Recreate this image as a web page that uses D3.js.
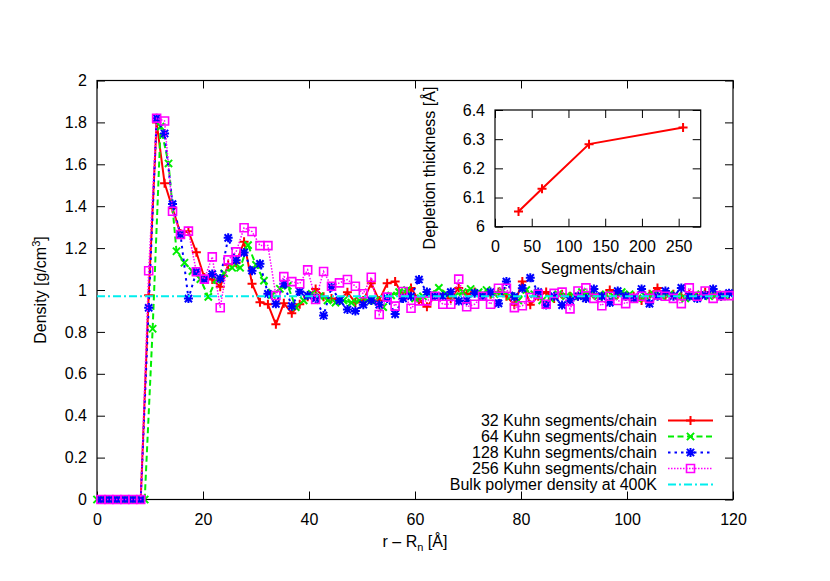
<!DOCTYPE html>
<html>
<head>
<meta charset="utf-8">
<script src="https://cdn.jsdelivr.net/npm/d3@7"></script>
<style>
  body { margin: 0; background: #fff; }
  svg { font-family: "Liberation Sans", Arial, sans-serif; }
  .axis text { font-size: 16px; fill: #000; }
  .axis line { stroke: #000; stroke-width: 1; }
  .lbl { font-size: 16px; fill: #000; }
</style>
</head>
<body>
<svg class="root"></svg>
<script>
// r - R_n grid of the 32/128/256 runs and of the 64 run (shifted half a bin)
var rA = [0.75,2.25,3.75,5.25,6.75,8.25,9.75,11.25,12.75,14.25,15.75,17.25,18.75,20.25,21.75,23.25,24.75,26.25,27.75,29.25,
  30.75,32.25,33.75,35.25,36.75,38.25,39.75,41.25,42.75,44.25,45.75,47.25,48.75,50.25,51.75,53.25,54.75,56.25,57.75,59.25,
  60.75,62.25,63.75,65.25,66.75,68.25,69.75,71.25,72.75,74.25,75.75,77.25,78.75,80.25,81.75,83.25,84.75,86.25,87.75,89.25,
  90.75,92.25,93.75,95.25,96.75,98.25,99.75,101.25,102.75,104.25,105.75,107.25,108.75,110.25,111.75,113.25,114.75,116.25,117.75,119.25];
var rB = [0,1.5,3,4.5,6,7.5,9,10.5,12,13.5,15,16.5,18,19.5,21,22.5,24,25.5,27,28.5,
  30,31.5,33,34.5,36,37.5,39,40.5,42,43.5,45,46.5,48,49.5,51,52.5,54,55.5,57,58.5,
  60,61.5,63,64.5,66,67.5,69,70.5,72,73.5,75,76.5,78,79.5,81,82.5,84,85.5,87,88.5,
  90,91.5,93,94.5,96,97.5,99,100.5,102,103.5,105,106.5,108,109.5,111,112.5,114,115.5,117,118.5];

var dens32 = [0,0,0,0,0,0,0.975,1.80,1.51,1.39,1.27,1.28,1.18,1.06,1.05,1.015,1.12,1.13,1.23,1.03,
  0.942,0.932,0.836,0.937,0.889,0.932,0.968,1.005,0.968,0.96,0.95,0.989,0.94,0.95,1.032,0.95,1.032,1.04,0.97,1.01,
  0.95,0.92,0.97,0.98,0.96,1.01,0.98,0.99,0.97,0.98,0.99,0.97,0.93,1.04,0.93,0.97,0.99,0.96,0.98,0.97,
  0.97,0.96,0.98,0.97,1.00,0.98,0.97,0.97,0.95,0.98,1.01,0.97,0.98,0.97,0.98,0.97,0.99,0.98,0.97,0.98];
var dens64 = [0,0,0,0,0,0,0,0.815,1.78,1.604,1.185,1.13,1.09,1.052,0.967,1.05,1.08,1.106,1.106,1.214,
  1.12,1.045,0.976,1.006,1.02,0.918,0.95,0.982,0.97,0.95,0.94,0.95,0.94,0.95,0.95,0.95,0.918,0.974,0.99,1.0,
  0.96,0.97,0.98,1.01,0.98,0.97,0.99,1.005,0.99,1.0,0.98,0.995,0.97,0.95,1.0,0.98,0.95,0.96,0.98,0.97,
  0.97,0.99,0.98,0.97,0.98,0.97,0.99,0.98,0.96,0.97,0.98,0.97,0.98,0.97,0.96,0.97,0.98,0.97,0.98,0.97];
var dens128 = [0,0,0,0,0,0,0.915,1.82,1.747,1.41,1.265,0.959,1.087,1.05,1.076,1.055,1.249,1.142,1.179,1.092,
  1.125,0.982,0.934,1.03,0.923,0.993,0.974,0.96,0.878,1.014,0.95,0.907,0.90,0.93,0.95,0.93,0.96,0.885,0.96,0.97,
  1.05,0.99,0.97,0.97,0.99,0.947,0.95,0.985,0.97,0.99,0.936,1.04,0.968,1.008,1.058,0.99,0.928,0.97,0.928,0.95,
  0.97,0.96,1.005,0.97,0.94,0.995,0.97,0.96,1.005,0.935,0.97,0.995,0.97,1.01,0.97,0.96,0.975,1.005,0.97,0.985];
var dens256 = [0,0,0,0,0,0,1.092,1.82,1.807,1.376,1.265,1.281,1.087,1.052,1.158,0.915,1.144,1.182,1.297,1.279,
  1.212,1.212,0.974,1.064,1.04,1.03,1.096,0.955,1.088,1.018,1.034,1.05,1.018,0.982,1.061,0.883,0.966,0.923,0.993,0.913,
  0.948,0.948,0.97,0.932,0.932,1.052,0.92,0.932,0.97,0.932,1.008,1.008,0.916,0.925,0.964,0.98,0.932,0.984,0.99,0.91,
  0.995,1.01,0.96,0.925,0.97,0.95,0.935,0.96,0.97,0.96,0.976,0.97,0.96,0.935,1.01,0.97,0.995,0.96,0.973,0.973];
var bulkDensity = 0.97;

var segments = [32, 64, 128, 256];
var depletion = [6.052, 6.13, 6.283, 6.34];

var xTicks = [0, 20, 40, 60, 80, 100, 120];
var yTicks = [0, 0.2, 0.4, 0.6, 0.8, 1, 1.2, 1.4, 1.6, 1.8, 2];
var insetXTicks = [0, 50, 100, 150, 200, 250];
var insetYTicks = [6, 6.1, 6.2, 6.3, 6.4];

var series = [
  {name: "32 Kuhn segments/chain", r: rA, v: dens32, color: "#ff0000", dash: null, width: 2, mark: "plus"},
  {name: "64 Kuhn segments/chain", r: rB, v: dens64, color: "#00ee00", dash: "6,3.5", width: 2, mark: "cross"},
  {name: "128 Kuhn segments/chain", r: rA, v: dens128, color: "#0000ff", dash: "2.5,4", width: 2, mark: "star"},
  {name: "256 Kuhn segments/chain", r: rA, v: dens256, color: "#ff00ff", dash: "1.5,1.5", width: 1.5, mark: "box"}
];

var W = 830, H = 581;
var svg = d3.select(".root").attr("width", W).attr("height", H);
svg.append("rect").attr("width", W).attr("height", H).attr("fill", "#fff");

var x = d3.scaleLinear().domain([0, 120]).range([97, 733]);
var y = d3.scaleLinear().domain([0, 2]).range([499.5, 80.5]);

function markPath(type) {
  var a = 4.5, b = 3.6;
  if (type == "plus") return "M" + (-a) + ",0H" + a + "M0," + (-a) + "V" + a;
  if (type == "cross") return "M" + (-b) + "," + (-b) + "L" + b + "," + b + "M" + (-b) + "," + b + "L" + b + "," + (-b);
  if (type == "star") return "M" + (-a) + ",0H" + a + "M0," + (-a) + "V" + a +
      "M" + (-b) + "," + (-b) + "L" + b + "," + b + "M" + (-b) + "," + b + "L" + b + "," + (-b);
  return "M-4,-4H4V4H-4Z";
}

function frame(g, sx, sy, xt, yt, fmtY) {
  g.append("g").attr("class", "axis")
      .attr("transform", "translate(0," + sy.range()[0] + ")")
      .call(d3.axisBottom(sx).tickValues(xt).tickSize(-8).tickSizeOuter(0).tickPadding(14).tickFormat(d3.format("")));
  g.append("g").attr("class", "axis")
      .attr("transform", "translate(0," + sy.range()[1] + ")")
      .call(d3.axisTop(sx).tickValues(xt).tickSize(-8).tickSizeOuter(0).tickFormat(""));
  g.append("g").attr("class", "axis")
      .attr("transform", "translate(" + sx.range()[0] + ",0)")
      .call(d3.axisLeft(sy).tickValues(yt).tickSize(-8).tickSizeOuter(0).tickPadding(10).tickFormat(fmtY));
  g.append("g").attr("class", "axis")
      .attr("transform", "translate(" + sx.range()[1] + ",0)")
      .call(d3.axisRight(sy).tickValues(yt).tickSize(-8).tickSizeOuter(0).tickFormat(""));
  g.selectAll(".domain").remove();
  g.append("rect")
      .attr("x", sx.range()[0]).attr("y", sy.range()[1])
      .attr("width", sx.range()[1] - sx.range()[0])
      .attr("height", sy.range()[0] - sy.range()[1])
      .attr("fill", "none").attr("stroke", "#000").attr("stroke-width", 1.2);
}

var main = svg.append("g");
frame(main, x, y, xTicks, yTicks, d3.format(""));

var line = d3.line().x(d => x(d[0])).y(d => y(d[1]));

series.forEach(function(s) {
  var pts = s.r.map((r, i) => [r, s.v[i]]);
  main.append("path")
      .attr("d", line(pts))
      .attr("fill", "none")
      .attr("stroke", s.color)
      .attr("stroke-width", s.width)
      .attr("stroke-dasharray", s.dash);
  main.selectAll(null)
      .data(pts)
    .enter().append("path")
      .attr("transform", d => "translate(" + x(d[0]) + "," + y(d[1]) + ")")
      .attr("d", markPath(s.mark))
      .attr("fill", "none")
      .attr("stroke", s.color)
      .attr("stroke-width", s.mark == "box" ? 1.6 : 2);
});

main.append("line")
    .attr("x1", x(0)).attr("x2", x(120))
    .attr("y1", y(bulkDensity)).attr("y2", y(bulkDensity))
    .attr("stroke", "#00eeee").attr("stroke-width", 2)
    .attr("stroke-dasharray", "8,3,2,3");

// axis titles
var yl = main.append("text").attr("class", "lbl")
    .attr("text-anchor", "middle")
    .attr("transform", "translate(46,290)rotate(-90)");
yl.append("tspan").text("Density [g/cm");
yl.append("tspan").attr("dy", -6).attr("font-size", 11).text("3");
yl.append("tspan").attr("dy", 6).text("]");

var xl = main.append("text").attr("class", "lbl")
    .attr("text-anchor", "middle")
    .attr("x", 415).attr("y", 547);
xl.append("tspan").text("r – R");
xl.append("tspan").attr("dy", 4).attr("font-size", 11).text("n");
xl.append("tspan").attr("dy", -4).text(" [Å]");

// key
var keyRows = series.map(s => ({name: s.name, color: s.color, dash: s.dash, width: s.width, mark: s.mark}))
    .concat([{name: "Bulk polymer density at 400K", color: "#00eeee", dash: "8,3,2,3", width: 2, mark: null}]);
var key = main.selectAll(".key")
    .data(keyRows)
  .enter().append("g")
    .attr("class", "key")
    .attr("transform", (d, i) => "translate(0," + (420.5 + i * 16) + ")");
key.append("text").attr("class", "lbl")
    .attr("x", 657).attr("dy", "0.35em")
    .attr("text-anchor", "end")
    .text(d => d.name);
key.append("line")
    .attr("x1", 668).attr("x2", 713)
    .attr("stroke", d => d.color)
    .attr("stroke-width", d => d.width)
    .attr("stroke-dasharray", d => d.dash);
key.filter(d => d.mark).append("path")
    .attr("transform", "translate(690.5,0)")
    .attr("d", d => markPath(d.mark))
    .attr("fill", "none")
    .attr("stroke", d => d.color)
    .attr("stroke-width", d => d.mark == "box" ? 1.6 : 2);

// inset
var ix = d3.scaleLinear().domain([0, 280]).range([495, 700.7]);
var iy = d3.scaleLinear().domain([6, 6.4]).range([226.7, 110]);
var inset = svg.append("g");
frame(inset, ix, iy, insetXTicks, insetYTicks, d3.format(""));

var ipts = segments.map((s, i) => [s, depletion[i]]);
inset.append("path")
    .attr("d", d3.line().x(d => ix(d[0])).y(d => iy(d[1]))(ipts))
    .attr("fill", "none").attr("stroke", "#ff0000").attr("stroke-width", 2);
inset.selectAll(null)
    .data(ipts)
  .enter().append("path")
    .attr("transform", d => "translate(" + ix(d[0]) + "," + iy(d[1]) + ")")
    .attr("d", markPath("plus"))
    .attr("fill", "none").attr("stroke", "#ff0000").attr("stroke-width", 2);

inset.append("text").attr("class", "lbl")
    .attr("text-anchor", "middle")
    .attr("x", 598).attr("y", 274)
    .text("Segments/chain");
inset.append("text").attr("class", "lbl")
    .attr("text-anchor", "middle")
    .attr("transform", "translate(435,168)rotate(-90)")
    .text("Depletion thickness [Å]");
</script>
</body>
</html>
